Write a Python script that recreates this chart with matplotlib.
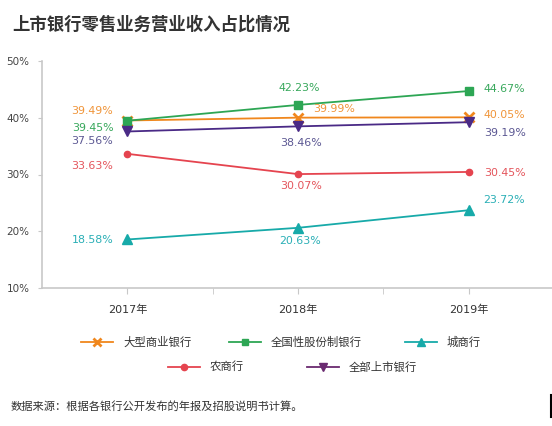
import matplotlib
matplotlib.use("Agg")
import matplotlib.pyplot as plt
from matplotlib.lines import Line2D

plt.rcParams['font.family'] = ['DejaVu Sans', 'Noto Sans CJK SC']

W, H = 552, 426
title = "上市银行零售业务营业收入占比情况"
source = "数据来源：根据各银行公开发布的年报及招股说明书计算。"
years = ["2017年", "2018年", "2019年"]
names = ["大型商业银行", "全国性股份制银行", "城商行", "农商行", "全部上市银行"]
big = [39.49, 39.99, 40.05]
joint = [39.45, 42.23, 44.67]
city = [18.58, 20.63, 23.72]
rural = [33.63, 30.07, 30.45]
allb = [37.56, 38.46, 39.19]
yticks = [10, 20, 30, 40, 50]

series = [big, joint, city, rural, allb]
colors = ['#f0871d', '#2da654', '#17aaa9', '#e5444f', '#4a2a86']
lab_colors = ['#f0953a', '#38a85c', '#2aafb6', '#e4555c', '#5c5893']
leg_colors = ['#f0871d', '#2da654', '#17aaa9', '#e5444f', '#6a2a70']
markers = ['x', 's', '^', 'o', 'v']
msizes = [7, 5.5, 7, 4.5, 7]
leg_msizes = [6, 5, 6, 4.5, 6]
mews = [2, 1, 1, 1, 1]

# label offsets in pixels for each series at each year (dx, dy, ha)
offsets = [
    [(-14, 9.5, 'right'), (36, 9, 'center'), (15, 2, 'left')],
    [(-14, -7.3, 'right'), (1, 17, 'center'), (15, 2, 'left')],
    [(-14, -0.5, 'right'), (2, -13, 'center'), (15, 10, 'left')],
    [(-14, -12, 'right'), (3, -12, 'center'), (15, -1, 'left')],
    [(-14, -9.5, 'right'), (3, -17, 'center'), (15, -11, 'left')],
]

fig = plt.figure(figsize=(W / 100, H / 100), dpi=100)
ax = fig.add_axes([42 / W, (H - 288.3) / H, 512 / W, (288.3 - 60.7) / H])
x = list(range(len(years)))
for s, c, lc, m, ms, mw, offs in zip(series, colors, lab_colors, markers, msizes, mews, offsets):
    ax.plot(x, s, color=c, lw=1.3, marker=m, ms=ms, mew=mw, mec=c, mfc=c, clip_on=False)
    for xi, v, (dx, dy, ha) in zip(x, s, offs):
        ax.annotate(f"{v:.2f}%", (xi, v), xytext=(dx, dy), textcoords='offset pixels',
                    ha=ha, va='center', fontsize=7.9, color=lc)

ax.set_xlim(-0.5, 2.5)
ax.set_ylim(10, 50)
ax.set_yticks(yticks)
ax.set_yticklabels([f"{t}%" for t in yticks])
ax.set_xticks(x)
ax.set_xticklabels(years)
ax.set_xticks([0.5, 1.5], minor=True)
for sp in ['top', 'right']:
    ax.spines[sp].set_visible(False)
for sp in ['left', 'bottom']:
    ax.spines[sp].set_color('#c8c8c8')
    ax.spines[sp].set_linewidth(1.2)
ax.tick_params(axis='y', length=3, color='#c8c8c8', labelsize=7.5, labelcolor='#444', pad=6)
ax.tick_params(axis='x', which='both', length=4, color='#c8c8c8', labelsize=8, labelcolor='#333', pad=8)
ax.patch.set_alpha(0)

fig.text(12 / W, 1 - 25 / H, title, fontsize=12.5, fontweight='bold', color='#333',
         ha='left', va='center', family=['Noto Sans CJK SC', 'DejaVu Sans'])
fig.text(11 / W, 1 - 406 / H, source, fontsize=8.1, color='#333', ha='left', va='center',
         family=['Noto Sans CJK SC', 'DejaVu Sans'])

# legend layout (pixel positions of handle start and row y)
leg_pos = [(81, 342), (229, 342), (405, 342), (168, 367), (307, 367)]
for (lx, ly), name, c, m, ms, mw in zip(leg_pos, names, leg_colors, markers, leg_msizes, mews):
    fx0, fx1, fy = lx / W, (lx + 32) / W, 1 - ly / H
    fig.add_artist(Line2D([fx0, fx1], [fy, fy], transform=fig.transFigure, color=c, lw=1.3))
    fig.add_artist(Line2D([(fx0 + fx1) / 2], [fy], transform=fig.transFigure, color=c,
                          marker=m, ms=ms, mew=mw, mec=c, mfc=c))
    fig.text((lx + 42) / W, fy, name, fontsize=8.2, color='#333', ha='left', va='center',
             family=['Noto Sans CJK SC', 'DejaVu Sans'])

fig.add_artist(Line2D([550.5 / W, 550.5 / W], [1 - 395 / H, 1 - 417 / H],
                      transform=fig.transFigure, color='black', lw=1.5))

fig.savefig("out.png", dpi=100)
